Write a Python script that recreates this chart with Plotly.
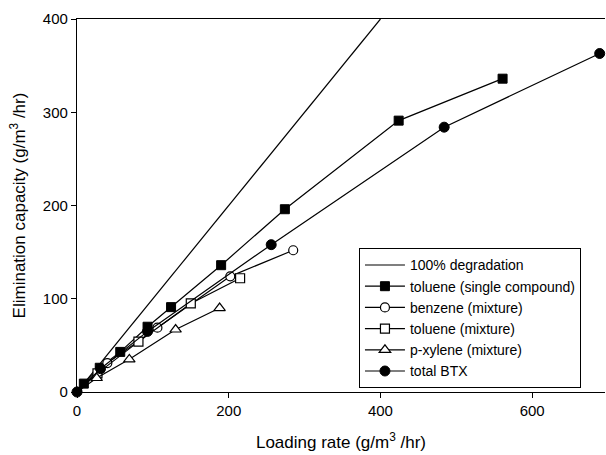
import plotly.graph_objects as go

# 100% degradation reference (y = x)
deg_x = [0, 400]
deg_y = [0, 400]

# toluene (single compound)
tol_single_x = [0, 9, 30, 57, 93, 124, 190, 274, 424, 561]
tol_single_y = [0, 9, 26, 43, 70, 91, 136, 196, 291, 336]

# benzene (mixture)
benz_x = [0, 40, 106, 202, 285]
benz_y = [0, 31, 69, 124, 152]

# toluene (mixture)
tol_mix_x = [0, 27, 81, 150, 215]
tol_mix_y = [0, 20, 54, 95, 122]

# p-xylene (mixture)
xyl_x = [0, 26, 69, 130, 188]
xyl_y = [0, 15, 35, 67, 90]

# total BTX
btx_x = [0, 31, 93, 256, 484, 689]
btx_y = [0, 25, 65, 158, 284, 363]

x_ticks = [0, 200, 400, 600]
y_ticks = [0, 100, 200, 300, 400]

LW = 1.2
fig = go.Figure()
fig.add_trace(go.Scatter(x=deg_x, y=deg_y, mode="lines", name="100% degradation",
                         line=dict(color="black", width=LW)))
fig.add_trace(go.Scatter(x=tol_single_x, y=tol_single_y, mode="lines+markers",
                         name="toluene (single compound)",
                         line=dict(color="black", width=LW),
                         marker=dict(symbol="square", size=9, color="black",
                                     line=dict(color="black", width=1))))
fig.add_trace(go.Scatter(x=benz_x, y=benz_y, mode="lines+markers",
                         name="benzene (mixture)",
                         line=dict(color="black", width=LW),
                         marker=dict(symbol="circle", size=9, color="white",
                                     line=dict(color="black", width=1.2))))
fig.add_trace(go.Scatter(x=tol_mix_x, y=tol_mix_y, mode="lines+markers",
                         name="toluene (mixture)",
                         line=dict(color="black", width=LW),
                         marker=dict(symbol="square", size=9, color="white",
                                     line=dict(color="black", width=1.2))))
fig.add_trace(go.Scatter(x=xyl_x, y=xyl_y, mode="lines+markers",
                         name="p-xylene (mixture)",
                         line=dict(color="black", width=LW),
                         marker=dict(symbol="triangle-up", size=10, color="white",
                                     line=dict(color="black", width=1.2))))
fig.add_trace(go.Scatter(x=btx_x, y=btx_y, mode="lines+markers",
                         name="total BTX", cliponaxis=False,
                         line=dict(color="black", width=LW),
                         marker=dict(symbol="circle", size=10, color="black",
                                     line=dict(color="black", width=1))))

font_family = "Liberation Sans, Arial, sans-serif"
fig.update_layout(
    width=606, height=455,
    margin=dict(l=77, r=1, t=19, b=63),
    paper_bgcolor="white", plot_bgcolor="white",
    font=dict(family=font_family, color="black", size=14),
    showlegend=True,
    legend=dict(x=0.534, y=0.385, xanchor="left", yanchor="top",
                bgcolor="white", bordercolor="black", borderwidth=1,
                font=dict(size=14, family=font_family, color="black"),
                itemwidth=40, tracegroupgap=0),
    xaxis=dict(range=[0, 696], tickvals=x_ticks, ticks="outside", ticklen=5,
               tickcolor="black", showline=True, linecolor="black", linewidth=1.2,
               mirror=True, showgrid=False, zeroline=False, automargin=False,
               tickfont=dict(size=15),
               title=dict(text="Loading rate (g/m<sup>3</sup> /hr)",
                          font=dict(size=17), standoff=18)),
    yaxis=dict(range=[0, 400], tickvals=y_ticks, ticks="outside", ticklen=5,
               tickcolor="black", showline=True, linecolor="black", linewidth=1.2,
               showgrid=False, zeroline=False, automargin=False,
               tickfont=dict(size=15),
               title=dict(text="Elimination capacity (g/m<sup>3</sup> /hr)",
                          font=dict(size=17), standoff=12)),
)

fig.write_html("out.html", config={"displayModeBar": False},
               post_script="document.body.style.margin='0';document.body.style.overflow='hidden';")
